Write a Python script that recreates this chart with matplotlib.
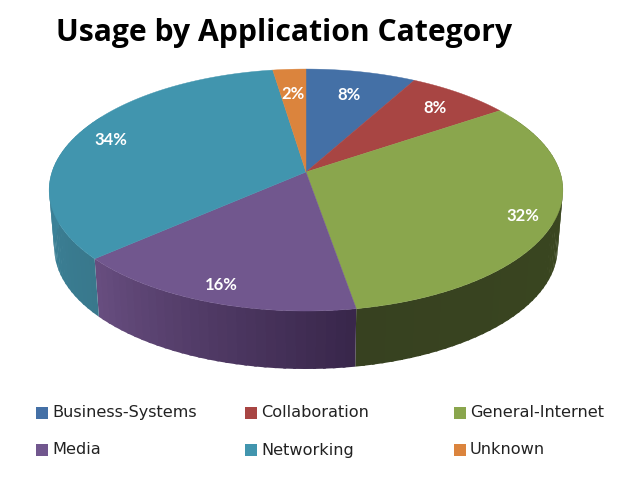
import numpy as np
import matplotlib.pyplot as plt
from matplotlib.patches import Rectangle

categories = ['Business-Systems', 'Collaboration', 'General-Internet',
              'Media', 'Networking', 'Unknown']
values = [8.0, 7.5, 31.8, 16.2, 34.1, 2.4]
colors = ['#4470a6', '#a84543', '#8aa64d', '#71578e', '#4195ae', '#db843d']

# side wall colours, start and end of each slice going clockwise
side_start = ['#2f4d73', '#743030', '#3c4a20', '#38264a', '#39788c', '#98602c']
side_end = ['#2f4d73', '#743030', '#374120', '#684e80', '#3c8aa2', '#98602c']

label_r = [0.76, 0.82, 0.88, 0.875, 0.855, 0.75]

# pie geometry in pixels
cx, cy = 306, 172
a, b, k = 254, 118.3, 0.149
depth = 58
base_scale = 0.98


def project(r, theta):
    # theta is clockwise from the top of the pie
    x = r * np.sin(theta)
    y = r * np.cos(theta)
    w = 1 + k * y
    return cx + a * x / w, cy - b * y / w


def mix(c1, c2, t):
    c1 = np.array(plt.matplotlib.colors.to_rgb(c1))
    c2 = np.array(plt.matplotlib.colors.to_rgb(c2))
    return tuple(c1 + (c2 - c1) * t)


fig = plt.figure(figsize=(6.4, 4.8), dpi=100)
ax = fig.add_axes([0, 0, 1, 1])
ax.set_xlim(0, 640)
ax.set_ylim(480, 0)
ax.axis('off')

edges = 2 * np.pi * np.concatenate([[0], np.cumsum(values)]) / sum(values)

# side wall, starts well behind the rim so the outline stays smooth
side_from = np.radians(60)
side_to = np.radians(300)
for i in range(len(values)):
    t0 = max(edges[i], side_from)
    t1 = min(edges[i + 1], side_to)
    if t1 <= t0:
        continue
    steps = np.linspace(t0, t1, int(np.degrees(t1 - t0) / 2) + 2)
    for j in range(len(steps) - 1):
        # run a bit into the next band so no seams show
        sx, sy = project(1, np.array([steps[j], min(steps[j + 1] + 0.01, t1)]))
        bx = cx + (sx - cx) * base_scale
        qx = [sx[0], sx[1], bx[1], bx[0]]
        qy = [sy[0], sy[1], sy[1] + depth, sy[0] + depth]
        c = mix(side_start[i], side_end[i], (j + 0.5) / (len(steps) - 1))
        ax.fill(qx, qy, color=c, lw=0, zorder=2)

# top face
for i in range(len(values)):
    th = np.linspace(edges[i], edges[i + 1], 120)
    px, py = project(1, th)
    ax.fill(np.r_[cx, px], np.r_[cy, py], color=colors[i], lw=0.3, zorder=3)

    mid = (edges[i] + edges[i + 1]) / 2
    lx, ly = project(label_r[i], mid)
    ax.text(lx, ly + 1.5, '%.0f%%' % values[i], color='white', fontsize=12,
            fontweight='bold', family='Lato', ha='center', va='center', zorder=4)

ax.text(56, 33, 'Usage by Application Category', fontsize=21.7, fontweight='bold',
        family='Open Sans', color='black', ha='left', va='center')

# legend, two rows of three
for i, name in enumerate(categories):
    col = i % 3
    row = i // 3
    lx = 36 + 209 * col
    ly = 412.5 + 37.5 * row
    ax.add_patch(Rectangle((lx, ly - 6), 12, 12, color=colors[i], lw=0))
    ax.text(lx + 16, ly, name, fontsize=11.6, family='DejaVu Sans', color='#222222',
            ha='left', va='center')

fig.savefig('out.png', dpi=100)
